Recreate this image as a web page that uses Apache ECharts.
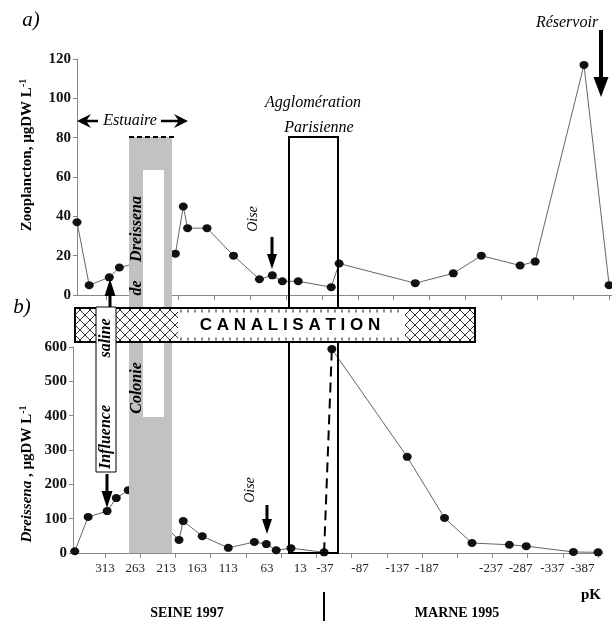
<!DOCTYPE html>
<html><head><meta charset="utf-8">
<script src="https://cdn.jsdelivr.net/npm/echarts@6/dist/echarts.min.js"></script>
<style>html,body{margin:0;padding:0;background:#fff}#c{width:612px;height:621px}</style>
</head><body><div id="c"></div>
<script>
// ---- data (pK = distance, km) ----
const pkZoo = [354, 337, 309, 295, 217, 206, 200, 173, 136, 100, 82, 68, 46, 0, -11, -117, -170, -209, -263, -284, -352, -387];
const zoo   = [37, 5, 9, 14, 21, 45, 34, 34, 20, 8, 10, 7, 7, 4, 16, 6, 11, 20, 15, 17, 117, 5];
const pkSeine   = [356, 337, 310, 297, 280, 208, 202, 175, 138, 101, 84, 70, 49, 2];
const dreiSeine = [5, 105, 122, 160, 183, 38, 93, 49, 15, 32, 26, 8, 14, 2];
const pkMarne   = [-9, -116, -169, -208, -261, -285, -352, -387];
const dreiMarne = [594, 280, 102, 29, 24, 20, 3, 2];
const tickPk = [313, 263, 213, 163, 113, 63, 13, -37, -87, -137, -187, -237, -287, -337, -387];
const tickLabels = ['313', '263', '213', '163', '113', '63', '13', '-37', '-87', '-137', '-187', '-237', '-287', '-337', '-387'];
const labelAt = [313, 270, 226, 182, 138, 83, 36, 1, -49, -102, -144, -235, -277, -322, -365];

const SERIF = 'Liberation Serif';
const chart = echarts.init(document.getElementById('c'), null, {renderer: 'canvas'});

function pairs(xs, ys) { return xs.map((x, i) => [x, ys[i]]); }

// hatch pattern
const pc = document.createElement('canvas'); pc.width = 10; pc.height = 10;
const g = pc.getContext('2d');
g.fillStyle = '#fff'; g.fillRect(0, 0, 10, 10);
g.strokeStyle = '#333'; g.lineWidth = 1;
g.beginPath(); g.moveTo(0, 0); g.lineTo(10, 10); g.moveTo(10, 0); g.lineTo(0, 10); g.stroke();
const hatch = {image: pc, repeat: 'repeat'};

function rect(x, y, w, h, style, z) { return {type: 'rect', shape: {x, y, width: w, height: h}, style, z, silent: true}; }
function txt(x, y, text, font, z, rot, extra) {
  return {type: 'text', x, y, rotation: rot || 0, z: z || 50, silent: true,
    style: Object.assign({text, font, fill: '#000', align: 'center', verticalAlign: 'middle'}, extra || {})};
}
function vArrow(x, y0, yTip, sw, hw, hl, z) {
  const d = Math.sign(yTip - y0), yb = yTip - d * hl;
  return {type: 'polygon', z: z || 45, silent: true, style: {fill: '#000'},
    shape: {points: [[x - sw / 2, y0], [x + sw / 2, y0], [x + sw / 2, yb], [x + hw / 2, yb], [x, yTip], [x - hw / 2, yb], [x - sw / 2, yb]]}};
}
function hArrow(xTip, xEnd, y, z) {
  const d = Math.sign(xEnd - xTip);
  return {type: 'polygon', z: z || 45, silent: true, style: {fill: '#000'},
    shape: {points: [[xTip, y], [xTip + d * 14, y - 7], [xTip + d * 10, y - 1.2], [xEnd, y - 1.2], [xEnd, y + 1.2], [xTip + d * 10, y + 1.2], [xTip + d * 14, y + 7]]}};
}

const axisCommon = {
  axisLine: {show: true, onZero: false, lineStyle: {color: '#888', width: 1}},
  splitLine: {show: false}
};
const yLabel = {fontFamily: SERIF, fontWeight: 'bold', fontSize: 15, color: '#111', margin: 6};

const elements = [
  // Colonie de Dreissena
  rect(129, 137, 43, 416, {fill: '#c2c2c2'}, 10),
  rect(143, 170, 21, 247, {fill: '#fff'}, 11),
  {type: 'line', z: 12, silent: true, shape: {x1: 129, y1: 137, x2: 175, y2: 137}, style: {stroke: '#000', lineWidth: 2, lineDash: [5, 3]}},
  // Agglomération parisienne box
  rect(289, 137, 49, 416, {fill: 'none', stroke: '#000', lineWidth: 2}, 15),
  // Canalisation bar
  rect(75, 308, 400, 34, {fill: '#fff'}, 20),
  rect(75, 308, 103, 34, {fill: hatch}, 21),
  rect(405, 308, 70, 34, {fill: hatch}, 21),
  {type: 'line', z: 22, silent: true, shape: {x1: 180, y1: 311, x2: 404, y2: 311}, style: {stroke: '#888', lineWidth: 3, lineDash: [2, 5]}},
  {type: 'line', z: 22, silent: true, shape: {x1: 180, y1: 339, x2: 404, y2: 339}, style: {stroke: '#888', lineWidth: 3, lineDash: [2, 5]}},
  rect(75, 308, 400, 34, {fill: 'none', stroke: '#000', lineWidth: 2}, 23),
  txt(290, 325, 'C A N A L I S A T I O N', 'bold 17px "Liberation Sans"', 24),
  // Influence saline box
  rect(96, 307, 20, 165, {fill: '#fff', stroke: '#000', lineWidth: 1}, 30),
  txt(106, 338, 'saline', 'bold italic 16px "Liberation Serif"', 31, Math.PI / 2),
  txt(106, 437, 'Influence', 'bold italic 16px "Liberation Serif"', 31, Math.PI / 2),
  txt(137, 229, 'Dreissena', 'bold italic 16px "Liberation Serif"', 31, Math.PI / 2),
  txt(137, 288, 'de', 'bold italic 16px "Liberation Serif"', 31, Math.PI / 2),
  txt(137, 388, 'Colonie', 'bold italic 16px "Liberation Serif"', 31, Math.PI / 2),
  vArrow(110, 307, 279, 3, 11, 17, 32),
  vArrow(107, 474, 508, 3, 11, 17, 32),
  // Estuaire
  txt(130, 121, 'Estuaire', 'italic 16px "Liberation Serif"'),
  hArrow(77, 98, 121), hArrow(188, 161, 121),
  // Agglomération text
  txt(313, 103, 'Agglomération', 'italic 16px "Liberation Serif"'),
  txt(319, 128, 'Parisienne', 'italic 16px "Liberation Serif"'),
  // Oise
  txt(253, 219, 'Oise', 'italic 14px "Liberation Serif"', 50, Math.PI / 2),
  vArrow(272, 237, 269, 3, 10, 15),
  txt(250, 490, 'Oise', 'italic 14px "Liberation Serif"', 50, Math.PI / 2),
  vArrow(267, 505, 534, 3, 10, 15),
  // Réservoir
  txt(567, 23, 'Réservoir', 'italic 16px "Liberation Serif"'),
  vArrow(601, 30, 97, 4, 15, 20),
  // panel letters
  txt(31, 20, 'a)', 'italic 21px "Liberation Serif"'),
  txt(22, 307, 'b)', 'italic 21px "Liberation Serif"'),
  // axis names
  {type: 'text', x: 27, y: 155, rotation: Math.PI / 2, z: 50, silent: true,
    style: {text: '{b|Zooplancton, µgDW L}{s|-1}', align: 'center', verticalAlign: 'middle',
      rich: {b: {fontFamily: SERIF, fontWeight: 'bold', fontSize: 15, fill: '#000', lineHeight: 17},
             s: {fontFamily: SERIF, fontWeight: 'bold', fontSize: 10, fill: '#000', verticalAlign: 'top', lineHeight: 17}}}},
  {type: 'text', x: 27, y: 474, rotation: Math.PI / 2, z: 50, silent: true,
    style: {text: '{i|Dreissena}{b| , µgDW L}{s|-1}', align: 'center', verticalAlign: 'middle',
      rich: {i: {fontFamily: SERIF, fontWeight: 'bold', fontStyle: 'italic', fontSize: 15, fill: '#000', lineHeight: 17},
             b: {fontFamily: SERIF, fontWeight: 'bold', fontSize: 15, fill: '#000', lineHeight: 17},
             s: {fontFamily: SERIF, fontWeight: 'bold', fontSize: 10, fill: '#000', verticalAlign: 'top', lineHeight: 17}}}},
  // bottom texts
  txt(591, 595, 'pK', 'bold 15px "Liberation Serif"'),
  txt(187, 613, 'SEINE 1997', 'bold 14px "Liberation Serif"'),
  txt(457, 613, 'MARNE 1995', 'bold 14px "Liberation Serif"'),
  {type: 'line', z: 50, silent: true, shape: {x1: 324, y1: 592, x2: 324, y2: 621}, style: {stroke: '#000', lineWidth: 2}}
];

const pointStyle = {symbol: 'circle', symbolSize: [9, 8], itemStyle: {color: '#111'}, lineStyle: {color: '#666', width: 1}, z: 3};

const option = {
  animation: false,
  backgroundColor: '#fff',
  grid: [
    {left: 77, top: 59, width: 535, height: 236},
    {left: 73, top: 347, width: 530, height: 206}
  ],
  xAxis: [
    Object.assign({type: 'value', gridIndex: 0, inverse: true, min: -391, max: 354,
      axisTick: {show: true, customValues: tickPk, length: 5, lineStyle: {color: '#888'}},
      axisLabel: {show: false}}, axisCommon),
    Object.assign({type: 'value', gridIndex: 1, inverse: true, min: -394, max: 358.5,
      axisTick: {show: true, customValues: tickPk, length: 5, lineStyle: {color: '#888'}},
      axisLabel: {show: true, customValues: labelAt, margin: 9, fontFamily: SERIF, fontSize: 13, color: '#222',
        formatter: function (v) {
          let best = 0, bd = Infinity;
          labelAt.forEach((a, i) => { const d = Math.abs(a - v); if (d < bd) { bd = d; best = i; } });
          return tickLabels[best];
        }}}, axisCommon)
  ],
  yAxis: [
    Object.assign({type: 'value', gridIndex: 0, min: 0, max: 120, interval: 20,
      axisTick: {show: true, length: 4, lineStyle: {color: '#888'}}, axisLabel: yLabel}, axisCommon),
    Object.assign({type: 'value', gridIndex: 1, min: 0, max: 600, interval: 100,
      axisTick: {show: true, length: 4, lineStyle: {color: '#888'}}, axisLabel: yLabel}, axisCommon)
  ],
  series: [
    Object.assign({type: 'line', name: 'Zooplancton', xAxisIndex: 0, yAxisIndex: 0, data: pairs(pkZoo, zoo)}, pointStyle),
    Object.assign({type: 'line', name: 'Dreissena Seine 1997', xAxisIndex: 1, yAxisIndex: 1, data: pairs(pkSeine, dreiSeine)}, pointStyle),
    Object.assign({type: 'line', name: 'Dreissena Marne 1995', xAxisIndex: 1, yAxisIndex: 1, data: pairs(pkMarne, dreiMarne)}, pointStyle),
    {type: 'line', name: 'link', xAxisIndex: 1, yAxisIndex: 1, symbol: 'none', z: 4,
      data: [[pkSeine[pkSeine.length - 1], dreiSeine[dreiSeine.length - 1]], [pkMarne[0], dreiMarne[0]]],
      lineStyle: {color: '#000', width: 2, type: [10, 6]}}
  ],
  graphic: {elements}
};
chart.setOption(option);
</script>
</body></html>
